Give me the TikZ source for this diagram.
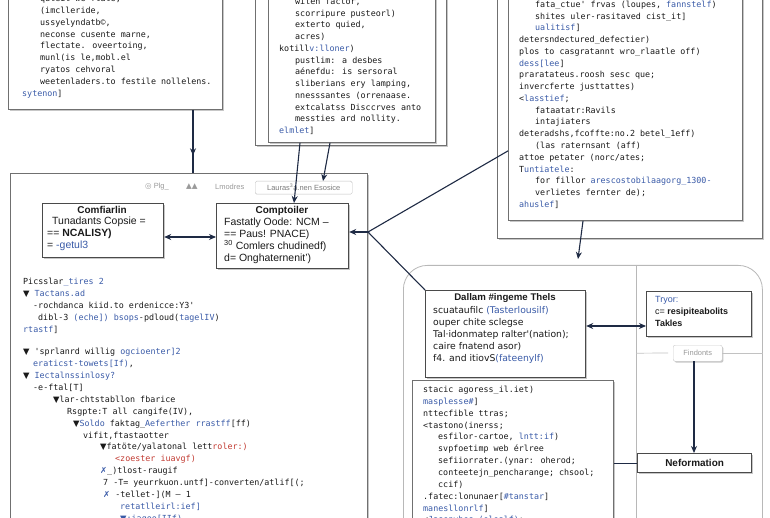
\documentclass[tikz,border=0pt]{standalone}
\usepackage{fontspec}
\setmainfont{Liberation Sans}
\newfontfamily\codefont{DejaVu Sans Mono}
\newfontfamily\djs{DejaVu Sans}
\usetikzlibrary{arrows.meta,shadows,decorations.markings,calc}
\definecolor{framec}{HTML}{707070}
\definecolor{nodec}{HTML}{4A4A4A}
\definecolor{cblue}{HTML}{3A5BA8}
\definecolor{cred}{HTML}{C23B32}
\definecolor{arrc}{HTML}{1E2A44}
\definecolor{codec}{HTML}{1A1A1A}
\definecolor{lgray}{HTML}{9A9A9A}
\newcommand{\cb}[1]{\textcolor{cblue}{#1}}
\newcommand{\crd}[1]{\textcolor{cred}{#1}}
\newcommand{\tri}{{\djs ▼}}
\newcommand{\mk}{\textcolor{cblue}{\djs ✗}}
\newcommand{\ind}[1]{\hspace*{#1bp}}
\begin{document}
\begin{tikzpicture}[x=1bp,y=-1bp,
 shad/.style={drop shadow={shadow xshift=1.2pt,shadow yshift=-1.4pt,fill=black,opacity=0.22}},
 frame/.style={draw=framec,line width=0.9pt,fill=white,inner sep=0pt,anchor=north west,shad},
 nbox/.style={draw=nodec,line width=1.2pt,fill=white,inner sep=0pt,anchor=north west,shad},
 code/.style={font=\codefont\fontsize{8.4}{11.9}\selectfont,align=left,inner sep=0pt,anchor=north west,text=codec},
 stxt/.style={font=\fontsize{10.5}{12}\selectfont,align=left,inner sep=0pt,anchor=north west,text=codec},
 ttl/.style={font=\bfseries\fontsize{10}{12}\selectfont,inner sep=0pt,text=codec},
 conn/.style={draw=arrc,line width=1.1pt},
 arr/.style={conn,-{Stealth[length=7bp,width=6bp]}},
 dbl/.style={conn,{Stealth[length=7bp,width=6bp]}-{Stealth[length=7bp,width=6bp]}},
 midarr/.style={conn,decoration={markings,mark=at position #1 with {\arrow{Stealth[length=7bp,width=6bp]}}},postaction={decorate}},
 tbar/.style={font=\fontsize{7.5}{9}\selectfont,text=lgray,inner sep=0pt,anchor=west}
]
\fill[white] (0,0) rectangle (770,518);
\useasboundingbox (0,0) rectangle (770,518);
\clip (0,0) rectangle (770,518);

% helper coordinates
\coordinate (x193) at (193,0);
\coordinate (x294) at (294,0);
\coordinate (x300) at (300,0);
\coordinate (x323) at (323,0);
\coordinate (x330) at (330,0);
\coordinate (x583) at (583,0);
\coordinate (x636) at (636,0);
\coordinate (x694) at (694,0);
\coordinate (y237) at (0,237);
\coordinate (y326) at (0,326);
\coordinate (J) at (368,232);
\coordinate (t1) at (578,259);
\coordinate (m1) at (668,353);

% frames
\node[frame,minimum width=214bp,minimum height=139bp] (tlbox) at (8,-30) {};
\node[frame,minimum width=191bp,minimum height=175bp] (tmout) at (255,-30) {};
\node[frame,minimum width=167bp,minimum height=172bp] (tmbox) at (268,-30) {};
\node[frame,minimum width=265bp,minimum height=268bp] (trout) at (497,-30) {};
\node[frame,minimum width=234bp,minimum height=250bp] (trbox) at (508,-30) {};
\node[frame,minimum width=357bp,minimum height=370bp] (lbox) at (10,173) {};
\node[draw=lgray!70,line width=0.8pt,rounded corners=24bp,inner sep=0pt,anchor=north west,minimum width=359bp,minimum height=290bp] (rcont) at (403,265) {};
\draw[lgray!70,line width=0.8pt] (rcont.north -| x636) -- (rcont.south -| x636);
\node[frame,minimum width=201bp,minimum height=160bp] (cbox) at (412,380) {};
\node[nbox,minimum width=160bp,minimum height=87bp] (dal) at (425,290) {};
\node[nbox,minimum width=105bp,minimum height=45bp] (try) at (646,291) {};
\node[nbox,minimum width=114bp,minimum height=19bp,font=\bfseries\fontsize{10}{12}\selectfont,text=codec] (nef) at (637,453) {Neformation};
\node[draw=lgray!50,fill=white,rounded corners=2bp,inner sep=0pt,minimum width=49bp,minimum height=16bp,anchor=north west,shad,font=\fontsize{7.5}{9}\selectfont,text=lgray] (fnd) at (673,345) {Findonts};
\draw[lgray!60,line width=0.7pt] (fnd.east) -- (rcont.east |- fnd.east);
\draw[lgray!60,line width=0.7pt] (fnd.west -| x636) -- (m1);
\node[nbox,minimum width=121bp,minimum height=54bp] (cmf) at (42,203) {};
\node[nbox,minimum width=132bp,minimum height=65bp] (cmp) at (216,203) {};
\node[draw=lgray!60,fill=white,rounded corners=1.5bp,inner sep=0pt,minimum width=97bp,minimum height=13bp,anchor=north west,font=\fontsize{7.5}{9}\selectfont,text=lgray!80!black] (tab) at (255,181) {Lauras\textsuperscript{3}a.nen Esosice};
\node[tbar] (tb1) at (145,187) {{\djs ◎} Plg\_};
\node[tbar] (tb2) at (186,187) {{\djs ▲▲}};
\node[tbar] (tb3) at (215,187) {Lmodres};

% code texts
\node[code] (tlt) at (22,-7) {\strut\ind{18}quteit we ftate,\\
\ind{18}(imclleride,\\
\ind{18}ussyelyndatb©,\\
\ind{18}neconse cusente marne,\\
\ind{18}flectate. oveertoing,\\
\ind{18}munl(is le,mobl.el\\
\ind{18}ryatos cehvoral\\
\ind{18}weetenladers.to festile nollelens.\\
\cb{sytenon}]};

\node[code,font=\codefont\fontsize{8.4}{11.8}\selectfont] (tmt) at (279,-4) {\strut\ind{16}witen factor,\\
\ind{16}scorripure pusteorl)\\
\ind{16}exterto quied,\\
\ind{16}acres)\\
kotill\cb{v:lloner})\\
\ind{16}pustlim: a desbes\\
\ind{16}aénefdu: is sersoral\\
\ind{16}sliberians ery lamping,\\
\ind{16}nnesssantes (orrenaase.\\
\ind{16}extcalatss Disccrves anto\\
\ind{16}messties ard nollity.\\
\cb{elmlet}]};

\node[code,font=\codefont\fontsize{8.4}{11.8}\selectfont] (trt) at (519,-1) {\strut\ind{16}fata\_ctue' frvas (loupes, \cb{fannstelf})\\
\ind{16}shites uler-rasitaved cist\_it]\\
\ind{16}\cb{ualitisf}]\\
detersndectured\_defectier)\\
plos to casgratannt wro\_rlaatle off)\\
\cb{dess[lee}]\\
praratateus.roosh sesc que;\\
invercferte justtattes)\\
<\cb{lasstief};\\
\ind{16}fataatatr:Ravils\\
\ind{16}intajiaters\\
deteradshs,fcoffte:no.2 betel\_1eff)\\
\ind{16}(las raternsant (aff)\\
attoe petater (norc/ates;\\
T\cb{untiatele}:\\
\ind{16}for fillor \cb{arescostobilaagorg\_1300-}\\
\ind{16}verlietes fernter de);\\
\cb{ahuslef}]};

\node[code,font=\codefont\fontsize{8.4}{12}\selectfont] (lt) at (23,276) {\strut Picsslar\cb{\_tires 2}\\
\tri\ \cb{Tactans.ad}\\
\ind{10}-rochdanca kiid.to erdenicce:Y3'\\
\ind{15}dibl-3 \cb{(eche])} \cb{bsops}-pdloud(\cb{tagelIV})\\
\cb{rtastf}]\\[10bp]
\tri\ 'sprlanrd willig \cb{ogcioenter]2}\\
\ind{10}\cb{eraticst-towets[If)},\\
\tri\ \cb{Iectalnssinlosy?}\\
\ind{10}-e-ftal[T]\\
\ind{30}\tri lar-chtstabllon fbarice\\
\ind{44}Rsgpte:T all cangife(IV),\\
\ind{50}\tri\cb{Soldo} faktag\_\cb{Aeferther rrastff}[ff)\\
\ind{60}vifit,ftastaotter\\
\ind{77}\tri fatöte/yalatonal lett\crd{roler:)}\\
\ind{92}\crd{<zoester iuavgf)}\\
\ind{77}\mk\_)tlost-raugif\\
\ind{80}7 -T= yeurrkuon.untf]-converten/atlif[(;\\
\ind{80}\mk\ -tellet-](M – 1\\
\ind{97}\cb{retatlleirl:ief]}\\
\ind{97}\cb{\tri:iagoo[IIf)}};

\node[code] (ct) at (423,384) {\strut stacic agoress\_il.iet)\\
\cb{masplesse\#}]\\
nttecfible ttras;\\
<tastono(inerss;\\
\ind{15}esfilor-cartoe, \cb{lntt:if})\\
\ind{15}svpfoetimp web érlree\\
\ind{15}sefiiorrater.(ynar: oherod;\\
\ind{15}conteetejn\_pencharange; chsool;\\
\ind{15}ccif)\\
.fatec:lonunaer[\cb{\#tanstar}]\\
\cb{manesllonrlf}]\\
<\cb{Jasenvhes (olealf)};};

% node texts
\node[ttl] (cmfT) at (102,210) {Comfiarlin};
\node[stxt] (cmfb) at (47,216) {\strut\ind{5}Tunadants Copsie =\\
== \textbf{NCALISY)}\\
= \cb{-getul3}};
\node[ttl] (cmpT) at (282,211) {Comptoiler};
\node[stxt] (cmpb) at (224,217) {\strut Fastatly Oode: NCM –\\
== Paus! PNACE)\\
\textsuperscript{30} Comlers chudinedf)\\
d= Onghaternenit')};
\node[ttl,font=\bfseries\fontsize{9.7}{12}\selectfont] (dalT) at (505,298) {Dallam \#ingeme Thels};
\node[stxt,font=\djs\fontsize{9.3}{12}\selectfont] (dalb) at (433,305) {\strut scuataufilc \cb{(Tasterlousilf)}\\
ouper chite sclegse\\
Tal·idonmatep ralter'(nation);\\
caire fnatend asor)\\
f4. and itiovS\cb{(fateenylf)}};
\node[stxt,font=\fontsize{9}{12}\selectfont] (tryb) at (655,294) {\strut\cb{Tryor:}\\
c= \textbf{resipiteabolits}\\
\textbf{Takles}};

% connectors
\draw[midarr=0.72] (tlbox.south -| x193) -- (lbox.north -| x193);
\draw[arr] (tmbox.south -| x300) -- (cmp.north -| x294);
\draw[arr] (tmbox.south -| x330) -- (tab.north -| x323);
\draw[conn] (J) -- ($(trbox.south west)+(0,-70)$);
\draw[conn] (J) -- (dal.north west);
\draw[arr] (J) -- (cmp.east |- J);
\draw[dbl] (cmf.east |- y237) -- (cmp.west |- y237);
\draw[arr] (trbox.south -| x583) -- (t1);
\draw[dbl] (dal.east |- y326) -- (try.west |- y326);
\draw[arr] (fnd.south -| x694) -- (nef.north -| x694);
\draw[conn] (cbox.east |- nef.west) -- (nef.west);
\end{tikzpicture}
\end{document}
